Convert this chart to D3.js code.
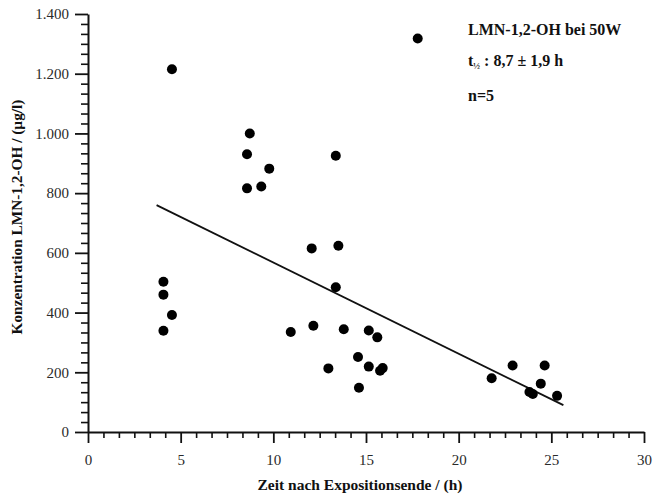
<!DOCTYPE HTML>
<html lang="de">

    <head>
        <meta charset="utf-8" />
        <title>LMN-1,2-OH</title>
        <style>
            body { margin: 0; background: #fff; }
            text { font-family: "Liberation Serif", "Times New Roman", serif; fill: #111; }
        </style>
    </head>

    <body>

        <script type="text/javascript" src="https://d3js.org/d3.v7.min.js"></script>
        <script>
            // Messwerte (Zeit in h, Konzentration in µg/l)
            const zeit = [4.07, 4.07, 4.53, 4.07, 4.53, 8.73, 8.58, 9.78, 8.58, 9.35,
                          10.94, 12.07, 12.16, 12.97, 13.37, 13.51, 13.37, 13.8, 14.57, 14.62,
                          15.15, 15.15, 15.61, 15.76, 15.9, 17.79, 21.78, 22.91, 23.82, 24.0,
                          24.43, 24.64, 25.31];
            const konz = [503, 460, 392, 339, 1215, 1000, 930, 882, 816, 822,
                          335, 615, 356, 213, 925, 624, 485, 344, 251, 148,
                          340, 219, 317, 205, 214, 1318, 180, 223, 134, 127,
                          162, 223, 121];

            // Regressionsgerade, Anfangs- und Endpunkt
            const fitX = [3.7, 25.65];
            const fitY = [760, 90];

            const xMajor = [0, 5, 10, 15, 20, 25, 30];
            const yMajor = [0, 200, 400, 600, 800, 1000, 1200, 1400];
            const yLabels = ["0", "200", "400", "600", "800", "1.000", "1.200", "1.400"];

            const width = 656;
            const height = 497;

            const x = d3.scaleLinear().domain([0, 30]).range([88, 644]);
            const y = d3.scaleLinear().domain([0, 1400]).range([432, 14]);

            const svg = d3.select("body")
                .append("svg")
                .attr("width", width)
                .attr("height", height);

            const xMinor = d3.range(0, 36).map(i => i * 5 / 6).filter((v, i) => i % 6 !== 0);
            const yMinor = d3.range(0, 42).map(i => i * 200 / 6).filter((v, i) => i % 6 !== 0);

            // Achsen: Nebenstriche
            svg.append("g")
                .attr("transform", `translate(0, ${y(0)})`)
                .call(d3.axisBottom(x).tickValues(xMinor).tickSize(6).tickFormat(""))
                .call(g => g.select(".domain").remove())
                .selectAll("line").attr("stroke", "#111").attr("stroke-width", 1.6);

            svg.append("g")
                .attr("transform", `translate(${x(0)}, 0)`)
                .call(d3.axisLeft(y).tickValues(yMinor).tickSize(7).tickFormat(""))
                .call(g => g.select(".domain").remove())
                .selectAll("line").attr("stroke", "#111").attr("stroke-width", 1.6);

            // Hauptstriche mit Beschriftung
            const xAxis = svg.append("g")
                .attr("transform", `translate(0, ${y(0)})`)
                .call(d3.axisBottom(x).tickValues(xMajor).tickSize(11).tickSizeOuter(0).tickPadding(11).tickFormat(d3.format("d")));

            const yAxis = svg.append("g")
                .attr("transform", `translate(${x(0)}, 0)`)
                .call(d3.axisLeft(y).tickValues(yMajor).tickSize(13).tickSizeOuter(0).tickPadding(6)
                    .tickFormat((d, i) => yLabels[i]));

            [xAxis, yAxis].forEach(a => {
                a.select(".domain").attr("stroke", "#111").attr("stroke-width", 2);
                a.selectAll("line").attr("stroke", "#111").attr("stroke-width", 1.8);
                a.selectAll("text")
                    .style("font-family", "\"Liberation Serif\", serif")
                    .style("font-size", "15px")
                    .style("fill", "#2a2a2a");
            });

            // Regressionsgerade
            svg.append("line")
                .attr("x1", x(fitX[0]))
                .attr("y1", y(fitY[0]))
                .attr("x2", x(fitX[1]))
                .attr("y2", y(fitY[1]))
                .attr("stroke", "#111")
                .attr("stroke-width", 1.8);

            // Punkte
            svg.append("g")
                .selectAll("circle")
                .data(zeit)
                .join("circle")
                .attr("cx", d => x(d))
                .attr("cy", (d, i) => y(konz[i]))
                .attr("r", 5)
                .attr("fill", "#000");

            // Achsentitel
            svg.append("text")
                .attr("x", 360)
                .attr("y", 490)
                .attr("text-anchor", "middle")
                .style("font-weight", "bold")
                .style("font-size", "15.5px")
                .text("Zeit nach Expositionsende / (h)");

            svg.append("text")
                .attr("transform", "translate(22, 217) rotate(-90)")
                .attr("text-anchor", "middle")
                .style("font-weight", "bold")
                .style("font-size", "15.3px")
                .text("Konzentration LMN-1,2-OH / (µg/l)");

            // Legende
            const legend = svg.append("g")
                .style("font-weight", "bold")
                .style("font-size", "16px");

            legend.append("text")
                .attr("x", 468)
                .attr("y", 35)
                .text("LMN-1,2-OH bei 50W");

            const t = legend.append("text")
                .attr("x", 468)
                .attr("y", 66);
            t.append("tspan").text("t");
            t.append("tspan").attr("dy", 3).style("font-size", "9px").text("½");
            t.append("tspan").attr("dy", -3).text(" : 8,7 ± 1,9 h");

            legend.append("text")
                .attr("x", 468)
                .attr("y", 101)
                .text("n=5");
        </script>
    </body>

</html>
